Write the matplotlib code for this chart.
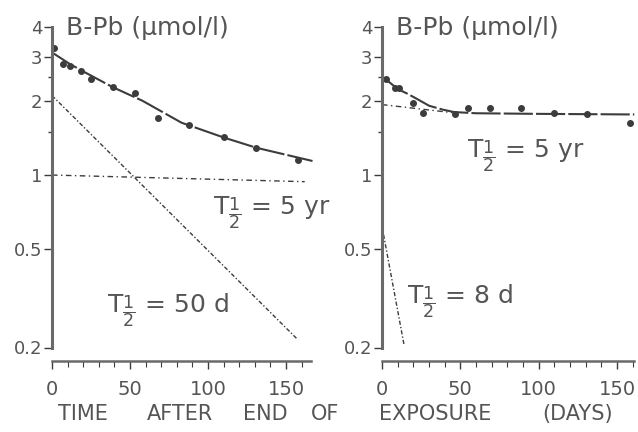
import matplotlib.pyplot as plt
from matplotlib.ticker import FixedLocator, NullFormatter

# values (days after exposure, B-Pb in umol/l)
left_days = [1, 7, 11.5, 18.6, 25, 39, 53, 68, 88, 110, 131, 158]
left_pb = [3.28, 2.83, 2.76, 2.65, 2.46, 2.27, 2.16, 1.71, 1.59, 1.43, 1.29, 1.15]
left_fit_days = [0, 11, 20, 39, 58, 83, 110, 131, 167]
left_fit_pb = [3.14, 2.83, 2.63, 2.27, 2.0, 1.63, 1.42, 1.29, 1.14]
left_slow_days = [0, 162]
left_slow_pb = [1.0, 0.94]
left_fast_days = [0, 157]
left_fast_pb = [2.10, 0.217]

right_days = [2.5, 8, 11, 19.5, 26, 46.5, 55, 69, 89, 110, 131, 158]
right_pb = [2.46, 2.25, 2.25, 1.96, 1.79, 1.77, 1.87, 1.87, 1.87, 1.79, 1.76, 1.63]
right_fit_days = [1, 5, 10, 16, 22, 30, 39, 46, 60, 100, 161]
right_fit_pb = [2.48, 2.37, 2.23, 2.14, 2.04, 1.91, 1.84, 1.80, 1.78, 1.77, 1.76]
right_slow_days = [0, 45]
right_slow_pb = [1.93, 1.79]
right_fast_days = [1, 14]
right_fast_pb = [0.573, 0.206]

y_ticks = [0.2, 0.5, 1, 2, 3, 4]
y_ticklabels = ['0.2', '0.5', '1', '2', '3', '4']
y_minor = [1.5, 2.5]
x_ticks = [0, 50, 100, 150]

ylabel = 'B-Pb (µmol/l)'
xlabel_words = ['TIME', 'AFTER', 'END', 'OF', 'EXPOSURE', '(DAYS)']

INK = '#3c3c3c'
TXT = '#555555'
plt.rcParams['font.family'] = ['DejaVu Sans']

W, H = 638, 432
fig = plt.figure(figsize=(W / 100, H / 100), dpi=100)


def make_axes(x0, xmax, px_per_day):
    # axes placed in pixel units of the figure
    bottom, top = 347.5, 26.5
    width = xmax * px_per_day
    ax = fig.add_axes([x0 / W, (H - bottom) / H, width / W, (bottom - top) / H])
    ax.set_yscale('log')
    ax.set_ylim(0.2, 4)
    ax.set_xlim(0, xmax)
    for s in ['top', 'right']:
        ax.spines[s].set_visible(False)
    ax.spines['left'].set_linewidth(2.2)
    ax.spines['left'].set_color('#6a6a6a')
    ax.spines['bottom'].set_linewidth(1.8)
    ax.spines['bottom'].set_color('#6a6a6a')
    ax.spines['bottom'].set_position(('outward', 9.7))
    ax.yaxis.set_major_locator(FixedLocator(y_ticks))
    ax.set_yticklabels(y_ticklabels)
    ax.yaxis.set_minor_locator(FixedLocator(y_minor))
    ax.yaxis.set_minor_formatter(NullFormatter())
    ax.xaxis.set_major_locator(FixedLocator(x_ticks))
    ax.xaxis.set_minor_locator(FixedLocator(range(0, int(xmax) + 1, 10)))
    ax.tick_params(axis='y', which='major', length=6, width=1, color=INK,
                   labelsize=13, labelcolor=TXT, pad=1)
    ax.tick_params(axis='y', which='minor', length=3, width=1, color=INK)
    ax.tick_params(axis='x', which='major', length=6, width=1, color=INK,
                   labelsize=14, labelcolor=TXT, pad=8)
    ax.tick_params(axis='x', which='minor', length=4, width=0.8, color=INK)
    ax.patch.set_alpha(0)
    ax.text(14 / width, 0.995, ylabel, transform=ax.transAxes, fontsize=18,
            color=TXT, ha='left', va='center')
    return ax


axl = make_axes(52, 166, 1.56)
axr = make_axes(382, 161, 1.567)

for ax, d, v, fd, fv, sd, sv, qd, qv in [
        (axl, left_days, left_pb, left_fit_days, left_fit_pb,
         left_slow_days, left_slow_pb, left_fast_days, left_fast_pb),
        (axr, right_days, right_pb, right_fit_days, right_fit_pb,
         right_slow_days, right_slow_pb, right_fast_days, right_fast_pb)]:
    ax.plot(fd, fv, color=INK, lw=1.5, dashes=(14, 1.5), clip_on=False)
    ax.plot(sd, sv, color=INK, lw=1.0, dashes=(4, 2.5, 1, 2.5), clip_on=False)
    ax.plot(qd, qv, color=INK, lw=1.0, dashes=(3, 1.5, 1, 1.5), clip_on=False)
    ax.plot(d, v, 'o', color=INK, ms=4, clip_on=False)

# half-life labels
half = r'T$_{\dfrac{1}{2}}$'
axl.text(103, 0.695, half + ' = 5 yr', fontsize=18, color=TXT, va='baseline')
axl.text(35, 0.279, half + ' = 50 d', fontsize=18, color=TXT, va='baseline')
axr.text(54, 1.18, half + ' = 5 yr', fontsize=18, color=TXT, va='baseline')
axr.text(16, 0.303, half + ' = 8 d', fontsize=18, color=TXT, va='baseline')

# spaced-out x label under both panels
for word, xc in zip(xlabel_words, [83, 180, 265, 325, 435, 578]):
    fig.text(xc / W, 1 - 414 / H, word, fontsize=15, color=TXT,
             ha='center', va='center')

fig.savefig('out.png', dpi=100)
